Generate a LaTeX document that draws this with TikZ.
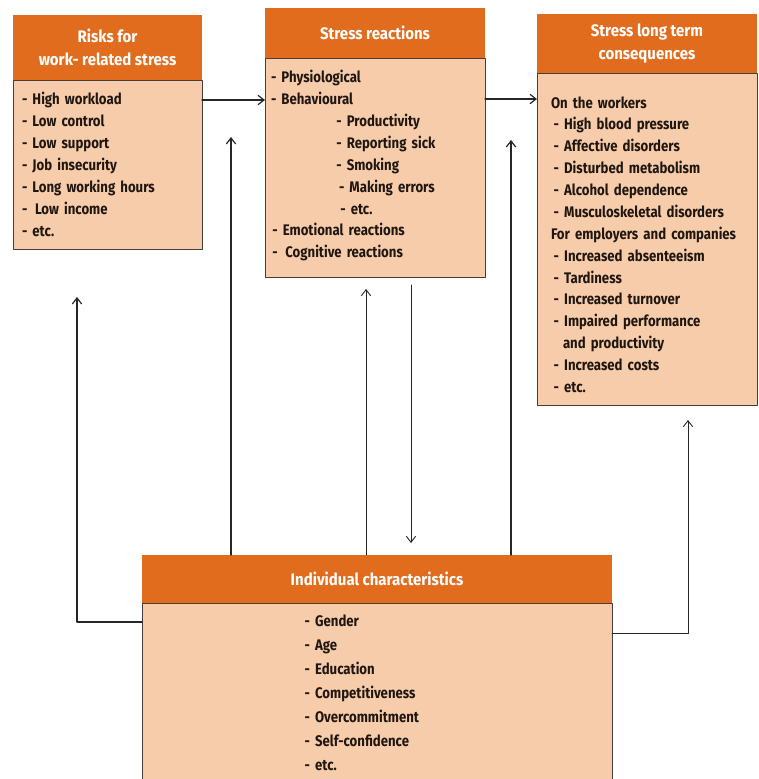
\documentclass[tikz,border=0pt]{standalone}
\usepackage{fontspec}
\setmainfont{Fira Sans}[FakeStretch=0.86]
\newfontfamily\headfont{Fira Sans}[FakeStretch=0.9]
\usetikzlibrary{arrows.meta,positioning}
\definecolor{headorange}{RGB}{226,108,30}
\definecolor{bodypeach}{RGB}{246,204,170}
\definecolor{boxline}{RGB}{70,62,58}
\definecolor{inktext}{RGB}{32,22,16}

\tikzset{
  boxhead/.style={fill=headorange,text=white,font=\headfont\fontsize{12.5}{17}\selectfont\bfseries,
    align=center,inner sep=0pt,outer sep=0pt,anchor=north west},
  boxbody/.style={fill=bodypeach,draw=boxline,line width=0.6pt,text=inktext,
    font=\fontsize{11.5}{16.4}\selectfont\bfseries,align=left,inner ysep=0pt,outer sep=0pt},
  link/.style={->,line width=0.9pt,draw=black!85},
  thinlink/.style={->,line width=0.7pt,draw=black!85}
}

\begin{document}
\begin{tikzpicture}[line cap=round,line join=round,>={Straight Barb[length=4.5pt,width=7pt]},x=0.75pt,y=-0.75pt]

\useasboundingbox (0,0) rectangle (758,779);
%%% the four boxes
\node[boxhead,minimum width=141.75pt,minimum height=48.75pt] (riskhead) at (13,15) {Risks for\\work- related stress};
\node[boxbody,below=0pt of riskhead,text width=128.25pt,inner xsep=6.75pt,minimum height=126.75pt] (riskbody)
  {- High workload\\- Low control\\- Low support\\- Job insecurity\\- Long working hours\\-\enspace Low income\\- etc.};

\node[boxhead,minimum width=165pt,minimum height=37.5pt] (stresshead) at (265,8) {Stress reactions};
\node[boxbody,below=0pt of stresshead,text width=156pt,inner xsep=4.5pt,minimum height=164.25pt] (stressbody)
  {- Physiological\\- Behavioural\\
   \hspace*{49pt}- Productivity\\\hspace*{49pt}- Reporting sick\\\hspace*{49pt}- Smoking\\
   \hspace*{51pt}- Making errors\\\hspace*{52pt}- etc.\\
   \hspace*{1pt}- Emotional reactions\\\hspace*{1pt}-\enspace Cognitive reactions\rule[-5pt]{0pt}{5pt}};

\node[boxhead,minimum width=165pt,minimum height=44.25pt] (conseqhead) at (537,14) {Stress long term\\consequences};
\node[boxbody,below=0pt of conseqhead,text width=144pt,inner xsep=10.5pt,minimum height=249pt] (conseqbody)
  {\rule{0pt}{17pt}On the workers\\\hspace*{2pt}- High blood pressure\\\hspace*{2pt}- Affective disorders\\
   \hspace*{2pt}- Disturbed metabolism\\\hspace*{2pt}- Alcohol dependence\\\hspace*{2pt}- Musculoskeletal disorders\\
   For employers and companies\\\hspace*{2pt}- Increased absenteeism\\\hspace*{2pt}- Tardiness\\
   \hspace*{2pt}- Increased turnover\\\hspace*{2pt}- Impaired performance\\\hspace*{9pt}and productivity\\
   \hspace*{2pt}- Increased costs\\\hspace*{2pt}- etc.};

\node[boxhead,minimum width=352.5pt,minimum height=36pt] (indivhead) at (142,555) {Individual characteristics};
\node[boxbody,below=0pt of indivhead,text width=340.5pt,inner xsep=6pt,minimum height=134.25pt,
  font=\fontsize{11.5}{18}\selectfont\bfseries] (indivbody)
  {\hspace*{116pt}- Gender\\\hspace*{116pt}- Age\\\hspace*{116pt}- Education\\\hspace*{116pt}- Competitiveness\\
   \hspace*{116pt}- Overcommitment\\\hspace*{116pt}- Self-confidence\\\hspace*{116pt}- etc.};

%%% free ends of the connectors
\coordinate (rowA) at (0,100);
\coordinate (rowB) at (0,99);
\coordinate (rowC) at (0,622);
\coordinate (rowD) at (0,633);
\coordinate (upA) at (77,297);
\coordinate (upB) at (231,137);
\coordinate (upC) at (366,289);
\coordinate (dnD) at (411,285);
\coordinate (upE) at (511,140);
\coordinate (upF) at (688,420);

%%% connectors
\draw [link] (riskbody.east |- rowA) -- (stressbody.west |- rowA);
\draw [link] (stressbody.east |- rowB) -- (conseqbody.west |- rowB);
%%
\draw [link] (indivbody.west |- rowC) -| (upA);
\draw [link] (upB |- indivhead.north) -- (upB);
\draw [thinlink] (upC |- indivhead.north) -- (upC);
\draw [thinlink,shorten >=9pt] (dnD) -- (dnD |- indivhead.north);
\draw [link] (upE |- indivhead.north) -- (upE);
\draw [thinlink] (indivbody.east |- rowD) -| (upF);
%%
\end{tikzpicture}
\end{document}
